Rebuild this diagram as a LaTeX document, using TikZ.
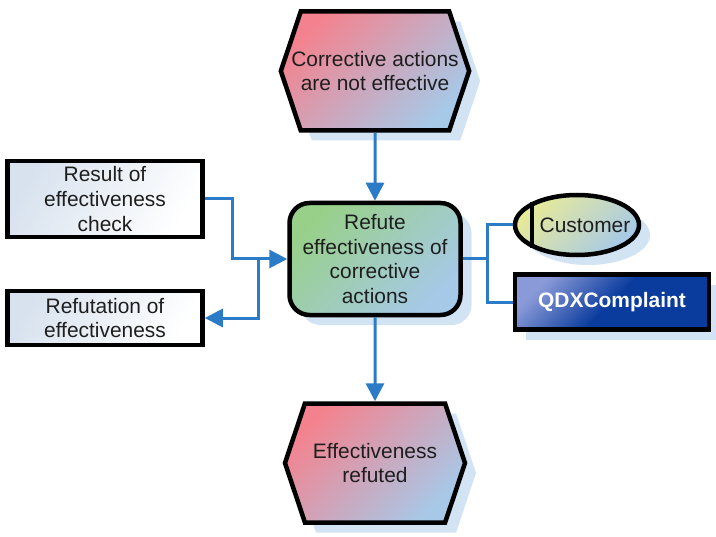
\documentclass[tikz,border=0pt]{standalone}
\usepackage{fontspec}
\setmainfont{Liberation Sans}
\usetikzlibrary{shapes.symbols,shapes.geometric,shadows,arrows.meta}
\definecolor{evpink}{HTML}{F4828E}
\definecolor{evblue}{HTML}{A6C9E8}
\definecolor{fngreen}{HTML}{98D08A}
\definecolor{custyellow}{HTML}{E8EA98}
\definecolor{qdxlight}{HTML}{8A9AD8}
\definecolor{qdxdark}{HTML}{0A3C9E}
\definecolor{datablue}{HTML}{D8E2EE}
\definecolor{shadowblue}{HTML}{D2E3F4}
\definecolor{flowblue}{HTML}{2B7BC6}
\definecolor{txtgray}{HTML}{1E1E1E}
\begin{document}
\begin{tikzpicture}[x=1bp,y=-1bp,
        every node/.style={font=\fontsize{21}{25}\selectfont,text=txtgray,align=center,inner sep=0pt},
        outline/.style={draw=black,line width=4.5bp},
        castshadow/.style={drop shadow={shadow xshift=11bp,shadow yshift=-10bp,fill=shadowblue,opacity=1}},
        event/.style={outline,castshadow,signal,signal to=west and east,signal pointer angle=143,
            minimum width=180bp,minimum height=119bp,
            top color=evpink,bottom color=evblue,shading angle=45},
        function/.style={outline,castshadow,rectangle,rounded corners=20bp,
            minimum width=171bp,minimum height=112bp,
            top color=fngreen,bottom color=evblue,shading angle=45},
        data/.style={outline,rectangle,minimum width=195bp,
            top color=datablue,bottom color=white,shading angle=60},
        role/.style={outline,castshadow,ellipse,minimum width=124bp,minimum height=60bp,
            top color=custyellow,bottom color=evblue,shading angle=45},
        system/.style={outline,castshadow,rectangle,minimum width=194bp,minimum height=55bp,
            top color=qdxlight,bottom color=qdxdark,middle color=qdxdark,shading angle=45,
            text=white,font=\fontsize{21}{25}\selectfont\bfseries},
        flow/.style={draw=flowblue,line width=3bp,-{Triangle[length=18bp,width=18bp]}},
        link/.style={draw=flowblue,line width=3bp}]
    \useasboundingbox (0,0) rectangle (716,537);
    % events
    \node[event] (notok) at (375,71) {\makebox[120bp]{Corrective actions}\\are not effective};
    \node[event] (refuted) at (375,463) {Effectiveness\\refuted};
    % function
    \node[function] (refute) at (375,259) {Refute\\effectiveness of\\corrective\\actions};
    % input and output data
    \node[data,minimum height=76bp] (result) at (105,199) {Result of\\effectiveness\\check};
    \node[data,minimum height=54bp] (refutation) at (105,318) {Refutation of\\effectiveness};
    % role and system
    \node[role] (cust) at (577,225) {\makebox[40bp]{\hspace*{16bp}Customer}};
    \draw[line width=4.5bp] (cust.153) -- (cust.207);
    \node[system] (qdx) at (612,302) {QDXComplaint};
    % connectors
    \coordinate (jin) at (232,259);
    \coordinate (jout) at (258,259);
    \coordinate (jright) at (487,259);
    \draw[flow] (notok) -- (refute);
    \draw[flow] (refute) -- (refuted);
    \draw[flow] (result.east) -| (jin) -- (refute.west);
    \draw[flow] (jout) |- (refutation.east);
    \draw[link] (refute.east) -- (jright);
    \draw[link] (jright) |- (cust.west);
    \draw[link] (jright) |- (qdx.west);
\end{tikzpicture}
\end{document}
